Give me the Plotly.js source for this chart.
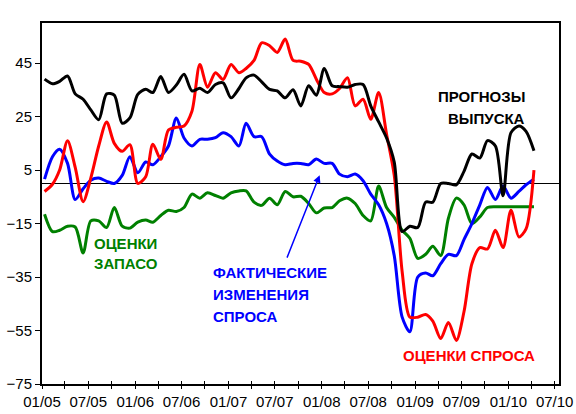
<!DOCTYPE html>
<html>
<head>
<meta charset="utf-8">
<script src="https://cdn.plot.ly/plotly-3.0.1.min.js"></script>
<style>
  html, body { margin: 0; padding: 0; background: #fff; }
  #chart { width: 576px; height: 414px; }
</style>
</head>
<body>
<div id="chart"></div>
<script>
// monthly values, Jan 2005 .. Apr 2010
const outputForecast = [
    39, 37.3, 38.2, 40.2, 33.5, 31.5, 27.5, 23.8, 33.5, 33, 22.5, 24.5,
    33.3, 35.2, 34, 40, 34, 36.8, 40.8, 34.6, 35.6, 34, 37, 37.6,
    32, 35.5, 39.5, 40.5, 38, 35.2, 34.6, 32, 35, 29, 36.5, 33,
    43, 36.5, 36.2, 36, 37, 37, 29, 23, 17, 8, -18, -16,
    -16.5, -7, -7, 0, 0, -0.5, 4.5, 11, 9.5, 16, 14, -4.6,
    19, 21.5, 19.5, 12.2
];
const demandEstimates = [
    -3, -0.3, 5, 16, 6, -6.8, 2, 14, 23, 15, 12, 14.5,
    0, 2.5, 14.7, 9, 20, 21, 21.5, 27, 44.5, 36, 41.4, 38.9,
    44.5, 41.4, 43, 46, 52.6, 51.5, 49, 54, 46, 45.7, 44.5, 39,
    34, 33.5, 35.5, 39.5, 29, 31.5, 24, 34, 18.4, 3, -33, -50,
    -50, -49, -51.5, -58, -52, -58.7, -48, -30, -24, -24.5, -17.5, -24,
    -10, -20, -17, 5
];
const actualDemand = [
    1.6, 10, 12.8, 7.5, -6, -2, 1.2, 2, 0.8, 0, 3, 10,
    4, 8, 7, 10, 14, 24.5, 17, 14, 16.5, 16.5, 17.1, 19,
    17.5, 14, 22.5, 17.5, 17.5, 11, 8.4, 7, 7.5, 7.5, 7, 9.1,
    7.5, 7.5, 3.5, 2.5, 3.5, 1, -4, -8, -15, -27, -50, -55.5,
    -35, -33.5, -34.5, -30, -26.5, -27, -21, -15, -8, -1.5, -6, -1,
    -5.5, -3, -0.5, 1.6
];
const stockEstimates = [
    -11.5, -18, -17.5, -16, -16.3, -26, -14, -14, -16.5, -9, -16, -16.7,
    -14.5, -13.7, -14.5, -12, -10, -10.5, -9, -4, -5.5, -3.5, -4.5, -5.5,
    -3.5, -2.8, -2.8, -7, -8.2, -5.5, -8, -3, -5, -4.8, -7.5, -11,
    -9.2, -9, -6.5, -5.5, -7.5, -12, -14, -1, -9, -12.7, -17.5, -20.5,
    -28, -26.5, -23.5, -27, -13, -5.5, -8, -15, -12.5, -9, -8.7, -8.7,
    -8.7, -8.7, -8.7, -8.7
];
const tickLabels = ["01/05", "07/05", "01/06", "07/06", "01/07", "07/07",
    "01/08", "07/08", "01/09", "07/09", "01/10", "07/10"];
const yTicks = [-75, -55, -35, -15, 5, 25, 45];

function monthDate(m) {
    // m = months since Jan 2005, may be fractional
    const i = Math.floor(m);
    const day = 1 + Math.round((m - i) * 29);
    const y = 2005 + Math.floor(i / 12);
    const mo = i % 12 + 1;
    return y + "-" + String(mo).padStart(2, "0") + "-" + String(day).padStart(2, "0");
}

const dates = outputForecast.map((v, i) => monthDate(i + 0.35));

const tickVals = [];
const tickText = [];
tickLabels.forEach((lab, i) => {
    tickVals.push(monthDate(i * 6));
    tickText.push(lab);
    if (i < tickLabels.length - 1) {
        tickVals.push(monthDate(i * 6 + 3));
        tickText.push("");
    }
});

function line(y, color) {
    return {
        x: dates, y: y, type: "scatter", mode: "lines",
        line: { color: color, width: 3, shape: "spline", smoothing: 0.8 },
        hoverinfo: "skip"
    };
}

const traces = [
    line(stockEstimates, "#008000"),
    line(actualDemand, "#0000ff"),
    line(demandEstimates, "#ff0000"),
    line(outputForecast, "#000000"),
    { x: [], y: [], xaxis: "x2", type: "scatter", showlegend: false }
];

const labFont = (c) => ({ family: "Liberation Sans, Arial, sans-serif", size: 15, color: c, weight: "bold" });

function label(lines, m, vals, color, anchor) {
    return lines.map((t, i) => ({
        x: monthDate(m), y: vals[i], xref: "x", yref: "y",
        text: "<b>" + t + "</b>", showarrow: false,
        xanchor: anchor, yanchor: "middle",
        font: labFont(color)
    }));
}

let annotations = []
    .concat(label(["ПРОГНОЗЫ", "ВЫПУСКА"], 62.5, [32.7, 24.4], "#000000", "right"))
    .concat(label(["ОЦЕНКИ", "ЗАПАСО"], 6.5, [-22.3, -29.8], "#008000", "left"))
    .concat(label(["ФАКТИЧЕСКИЕ", "ИЗМЕНЕНИЯ", "СПРОСА"], 21.8, [-33.3, -41.4, -49.8], "#0000ff", "left"))
    .concat(label(["ОЦЕНКИ СПРОСА"], 46.2, [-64.2], "#ff0000", "left"));

annotations.push({
    x: monthDate(35.8), y: 3.1, xref: "x", yref: "y",
    ax: monthDate(31.5), ay: -28.3, axref: "x", ayref: "y",
    showarrow: true, arrowhead: 2, arrowsize: 1, arrowwidth: 1.5,
    arrowcolor: "#0000ff", text: ""
});

const xRange = [monthDate(0), monthDate(66.6)];

const layout = {
    width: 576, height: 414,
    margin: { l: 42, r: 17, t: 23, b: 30 },
    paper_bgcolor: "#ffffff", plot_bgcolor: "#ffffff",
    showlegend: false,
    font: { family: "Liberation Sans, Arial, sans-serif", size: 15, color: "#000" },
    xaxis: {
        type: "date", range: xRange,
        tickvals: tickVals, ticktext: tickText,
        ticks: "outside", ticklen: 3, tickwidth: 1, tickcolor: "#000",
        showgrid: false, zeroline: false,
        showline: true, linecolor: "#000", linewidth: 2, mirror: true,
        tickfont: { size: 15 }
    },
    xaxis2: {
        type: "date", range: xRange, overlaying: "x",
        tickvals: tickVals, showticklabels: false,
        ticks: "inside", ticklen: 3, tickwidth: 1, tickcolor: "#000",
        showgrid: false, zeroline: false, showline: false
    },
    yaxis: {
        range: [-75, 60],
        tickvals: yTicks,
        ticks: "outside", ticklen: 5, tickwidth: 1, tickcolor: "#000",
        showgrid: false,
        zeroline: true, zerolinecolor: "#000", zerolinewidth: 1,
        showline: true, linecolor: "#000", linewidth: 2, mirror: true,
        tickfont: { size: 15 }
    },
    annotations: annotations
};

Plotly.newPlot("chart", traces, layout, { staticPlot: true });
</script>
</body>
</html>
